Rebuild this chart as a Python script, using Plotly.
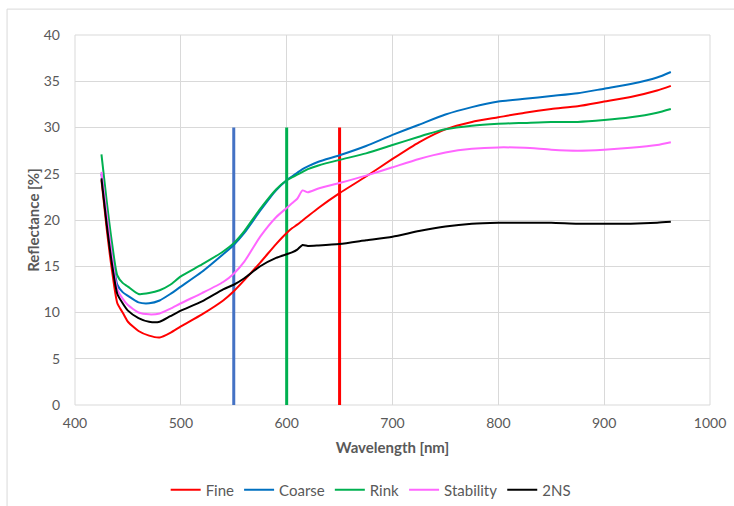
import plotly.graph_objects as go

wavelength = [425, 430, 435, 440, 445, 450, 460, 470, 480, 490, 500, 520, 540, 550, 560, 575,
              590, 600, 605, 610, 615, 620, 630, 650, 675, 700, 725, 750, 775, 800, 825, 850,
              875, 900, 925, 950, 963]

fine = [24.3, 19.0, 14.5, 11.0, 10.0, 9.0, 8.0, 7.5, 7.3, 7.8, 8.5, 9.8, 11.3, 12.3, 13.5, 15.4,
        17.4, 18.6, 19.1, 19.5, 19.95, 20.4, 21.3, 22.9, 24.7, 26.6, 28.4, 29.8, 30.6, 31.1, 31.6, 32.0,
        32.3, 32.8, 33.3, 34.0, 34.5]
coarse = [25.0, 20.5, 16.3, 13.0, 12.2, 11.8, 11.1, 11.0, 11.3, 12.0, 12.8, 14.4, 16.3, 17.3, 18.6, 21.0,
          23.2, 24.3, 24.7, 25.1, 25.5, 25.8, 26.3, 27.0, 28.0, 29.2, 30.3, 31.4, 32.2, 32.8, 33.1, 33.4,
          33.7, 34.2, 34.7, 35.4, 36.0]
rink = [27.1, 22.0, 17.5, 14.0, 13.2, 12.8, 12.0, 12.1, 12.4, 13.0, 13.9, 15.2, 16.6, 17.5, 18.8, 21.2,
        23.3, 24.3, 24.6, 24.9, 25.2, 25.5, 25.9, 26.5, 27.2, 28.1, 29.0, 29.8, 30.2, 30.4, 30.5, 30.6,
        30.6, 30.8, 31.1, 31.6, 32.0]
stability = [25.2, 20.5, 16.0, 12.5, 11.5, 10.8, 10.0, 9.8, 9.9, 10.4, 11.0, 12.1, 13.3, 14.2, 15.5, 18.2,
             20.3, 21.3, 21.8, 22.3, 23.2, 23.0, 23.4, 24.0, 24.8, 25.7, 26.6, 27.3, 27.7, 27.85, 27.8, 27.6,
             27.5, 27.6, 27.8, 28.1, 28.4]
ns2 = [24.5, 19.5, 15.2, 12.0, 11.0, 10.2, 9.4, 9.0, 9.0, 9.6, 10.2, 11.2, 12.5, 13.0, 13.7, 15.0,
       15.9, 16.3, 16.5, 16.8, 17.3, 17.2, 17.25, 17.4, 17.8, 18.2, 18.8, 19.3, 19.6, 19.7, 19.7, 19.7,
       19.6, 19.6, 19.6, 19.7, 19.8]

series_names = ["Fine", "Coarse", "Rink", "Stability", "2NS"]
series_values = [fine, coarse, rink, stability, ns2]
series_colors = ["#FF0000", "#0070C0", "#00B050", "#FF66FF", "#000000"]

marker_wavelengths = [550, 600, 650]
marker_colors = ["#4472C4", "#00B050", "#FF0000"]
marker_top = 30

x_ticks = [400, 500, 600, 700, 800, 900, 1000]
y_ticks = [0, 5, 10, 15, 20, 25, 30, 35, 40]

fig = go.Figure()

for xv, c in zip(marker_wavelengths, marker_colors):
    fig.add_trace(go.Scatter(x=[xv, xv], y=[0, marker_top], mode="lines",
                             line=dict(color=c, width=3), showlegend=False, hoverinfo="skip"))

for name, vals, c in zip(series_names, series_values, series_colors):
    fig.add_trace(go.Scatter(x=wavelength, y=vals, mode="lines", name=name,
                             line=dict(color=c, width=2, shape="spline", smoothing=0.6)))

font_family = "Lato, 'Open Sans', sans-serif"

fig.update_layout(
    width=734, height=506,
    margin=dict(l=75, r=24, t=35, b=101, autoexpand=False),
    paper_bgcolor="white", plot_bgcolor="white",
    font=dict(family=font_family, color="#595959", size=14),
    xaxis=dict(range=[400, 1000], tickvals=x_ticks, showgrid=True, gridcolor="#D9D9D9",
               gridwidth=1, zeroline=False, showline=False, ticks="", ticklabelstandoff=8,
               automargin=False,
               title=dict(text="<b>Wavelength [nm]</b>", font=dict(size=15, color="#595959"), standoff=12),
               tickfont=dict(size=14, color="#595959")),
    yaxis=dict(range=[0, 40], tickvals=y_ticks, showgrid=True, gridcolor="#D9D9D9",
               gridwidth=1, zeroline=False, showline=False, ticks="", ticklabelstandoff=14,
               automargin=False,
               title=dict(text="<b>Reflectance [%]</b>", font=dict(size=15, color="#595959"), standoff=0),
               tickfont=dict(size=14, color="#595959")),
    legend=dict(orientation="h", x=0.505, xanchor="center", xref="container",
                y=16 / 506, yanchor="middle", yref="container",
                font=dict(size=15, color="#595959"), itemwidth=30, tracegroupgap=0),
    showlegend=True,
)

fig.add_shape(type="rect", xref="paper", yref="paper", x0=0, x1=1, y0=0, y1=1,
              line=dict(color="#D9D9D9", width=1), layer="below")
fig.add_shape(type="rect", xref="paper", yref="paper", x0=-0.107, x1=1.06, y0=-0.31, y1=1.07,
              line=dict(color="#D9D9D9", width=1), layer="below")

fig.write_html("out.html")
